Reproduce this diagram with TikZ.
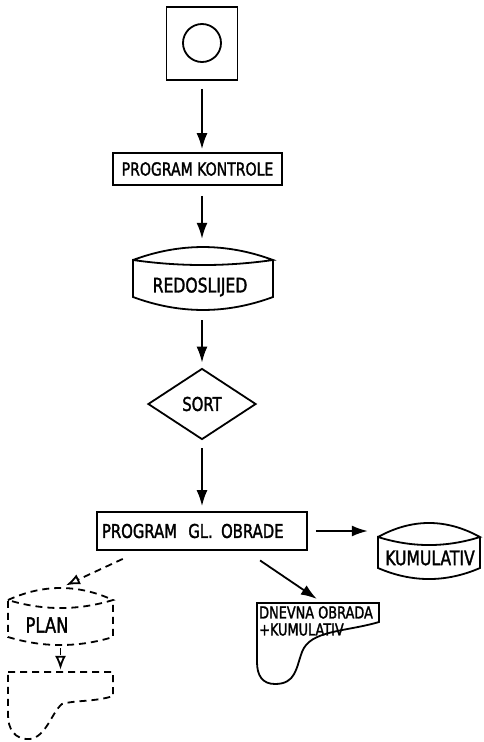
\documentclass[tikz,border=0pt]{standalone}
\usepackage{fontspec}
\setmainfont{DejaVu Sans}[FakeStretch=0.78,FakeBold=1.6]
\usetikzlibrary{shapes.geometric,arrows.meta,calc}
\begin{document}
\begin{tikzpicture}[x=1pt,y=-1pt,
  ln/.style={line width=1.8pt},
  box/.style={draw,ln,rectangle,inner sep=0pt},
  area/.style={rectangle,inner sep=0pt},
  arr/.style={ln,-{Latex[length=16pt,width=11pt]}},
  darr/.style={ln,dash pattern=on 7pt off 5pt,-{Latex[length=14pt,width=11pt,open]}},
  dsh/.style={ln,dash pattern=on 7pt off 5pt},
  lab/.style={inner sep=0pt}]
\useasboundingbox (0,0) rectangle (484,742);

% start symbol
\node[box,minimum width=71pt,minimum height=73pt] (start) at (202,43.5) {};
\node[draw,ln,circle,minimum size=38pt,inner sep=0pt] (ring) at (202,43) {};

% program kontrole
\node[box,minimum width=169pt,minimum height=32pt,font=\fontsize{18}{18}\selectfont] (pk) at (197.5,169) {PROGRAM KONTROLE};

% redoslijed (storage)
\node[area,minimum width=140pt,minimum height=63pt] (red) at (203,278.5) {};
\node[lab,font=\fontsize{20}{20}\selectfont] (redtxt) at (200,287) {REDOSLIJED};
\draw[ln] (133,260) .. controls (179.7,242.7) and (226.3,242.7) .. (273,260)
  .. controls (226.3,266.7) and (179.7,266.7) .. (133,260) -- (133,297)
  .. controls (179.7,314.3) and (226.3,314.3) .. (273,297) -- (273,260);

% sort
\node[draw,ln,diamond,minimum width=108pt,minimum height=71pt,inner sep=0pt,font=\fontsize{19}{19}\selectfont] (sort) at (202,404) {SORT};

% program gl. obrade
\node[box,minimum width=210pt,minimum height=38pt,text width=200pt,align=left,inner xsep=5pt,font=\fontsize{19}{19}\selectfont] (pgo) at (202,531) {PROGRAM\hspace{5pt} GL.\hspace{2pt} OBRADE};

% kumulativ
\node[area,minimum width=102pt,minimum height=56pt] (kum) at (429,551) {};
\node[lab,font=\fontsize{20}{20}\selectfont] (kumtxt) at (430,558) {KUMULATIV};
\draw[ln] (378,537) .. controls (412,518.3) and (446,518.3) .. (480,537)
  .. controls (446,547.7) and (412,547.7) .. (378,537) -- (378,568)
  .. controls (412,582.7) and (446,582.7) .. (480,568) -- (480,537);

% dnevna obrada (document)
\node[area,minimum width=122pt,minimum height=82pt] (dn) at (318,643.5) {};
\node[lab,anchor=north west,align=left,font=\fontsize{16.5}{17}\selectfont] (dntxt) at (259,606) {DNEVNA OBRADA\\+KUMULATIV};
\draw[ln] (257,603) -- (379,603) -- (379,622)
  .. controls (345,632) and (310,630) .. (302,652)
  .. controls (296,668) and (296,684) .. (275,684)
  .. controls (262,684) and (257,675) .. (257,662) -- cycle;

% plan (dashed storage)
\node[area,minimum width=105pt,minimum height=57pt] (plan) at (60.5,616.5) {};
\node[lab,font=\fontsize{21}{21}\selectfont] (plantxt) at (47,625) {PLAN};
\draw[dsh] (8,600) .. controls (43,584) and (78,584) .. (113,600)
  .. controls (78,610.7) and (43,610.7) .. (8,600) -- (8,637)
  .. controls (43,647.7) and (78,647.7) .. (113,637) -- (113,600);

% dashed document
\node[area,minimum width=105pt,minimum height=67pt] (doc) at (60.5,705.5) {};
\draw[dsh] (8,672) -- (113,672) -- (113,696)
  .. controls (95,702) and (75,700) .. (62,704)
  .. controls (52,712) and (46,737) .. (30,739)
  .. controls (14,740) and (8,728) .. (8,715) -- cycle;

% connectors
\draw[arr,shorten <=8pt,shorten >=3pt] (start.south) -- (start.south |- pk.north);
\draw[arr,shorten <=10pt,shorten >=8pt] (pk.south -| sort) -- (red.north -| sort);
\draw[arr,shorten <=10pt,shorten >=5pt] (red.south -| sort) -- (sort.north);
\draw[arr,shorten <=8pt,shorten >=5pt] (sort.south) -- (pgo.north -| sort);
\draw[arr,shorten <=8pt,shorten >=10pt] (pgo.east) -- (pgo.east -| kum.west);
\draw[arr,shorten <=17pt,shorten >=6pt] ($(pgo.south)+(44,0)$) -- ($(dn.north west)+(65,0)$);
\draw[darr,shorten <=19pt,shorten >=6pt] ($(pgo.south)+(-62,0)$) -- (plan.north);
\draw[darr,shorten <=3pt,shorten >=2pt] (plan.south) -- (doc.north);
\end{tikzpicture}
\end{document}
